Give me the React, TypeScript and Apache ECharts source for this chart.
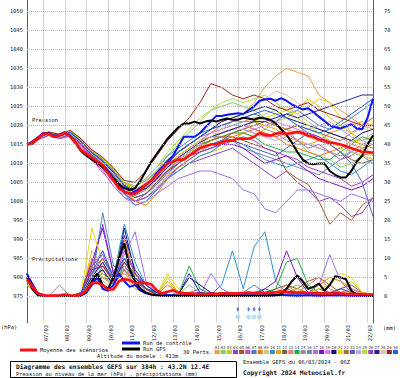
import React, { useEffect, useRef } from 'react';
import * as echarts from 'echarts';

const FONT = '"DejaVu Sans Mono", monospace';
const DATES = ['07/03','08/03','09/03','10/03','11/03','12/03','13/03','14/03','15/03','16/03','17/03','18/03','19/03','20/03','21/03','22/03'];
const HPA_TICKS = [975,980,985,990,995,1000,1005,1010,1015,1020,1025,1030,1035,1040,1045,1050];
const MM_TICKS = [0,5,10,15,20,25,30,35,40,45,50,55,60,65,70,75];
const STEP_MAIN = 6;
const STEP_PERT = 12;
const SNOW_HOURS = [234, 246, 252, 258];

const MEAN_P = [1015,1015.3,1016.5,1017.8,1017.8,1017,1017.5,1018,1017,1015.5,1013.5,1012.5,1011.5,1010.5,1009.5,1007.5,1005.5,1003.5,1002.5,1002,1002,1003,1004.5,1005.5,1007,1008.5,1010,1010.5,1011,1011,1012,1013,1014,1014.5,1015,1015,1015.5,1016,1016,1016.5,1016.5,1016.5,1017,1018,1017.5,1017.3,1017.8,1018,1017.8,1018,1018.3,1018,1017.3,1017,1016.3,1016,1015.5,1015.3,1015,1014.5,1014,1013.5,1013,1013,1012.8];
const CTRL_P = [1015,1015.5,1016.8,1018,1018,1017.2,1017.6,1018.2,1017.2,1015.5,1013.5,1012.5,1011.5,1010.5,1009.5,1008,1006,1004,1002.5,1002,1002.5,1003.5,1004.5,
  1005.5,1007.5,1009,1010.5,1012,1014.5,1017,1017,1017,1018,1019.5,1021,1022.5,1022.5,1022.8,1023,1023.2,1023,
  1024,1025,1026.5,1026.8,1027,1026.5,1027.2,1026.5,1025.5,1024.8,1024.2,1024.5,1023.5,1022.3,1021.2,1020,1019.5,1019.2,1019.8,1020.3,1019.2,1019,1022,1027];
const GFS_P = [1015,1015.2,1016.5,1017.8,1017.9,1017,1017.4,1018,1017,1015.3,1013.2,1012,1011,1010,1009,1007.5,1006,1004.5,1003.5,1003,1003.5,1005.5,1008,
  1010.5,1012.5,1014.5,1016.5,1018,1019.5,1020.5,1020.5,1021,1020.5,1021,1021.3,1021,1021.5,1021.8,1021.5,1021.5,1022,1021.8,1021.5,1022,1021.8,1021.5,
  1020.5,1019,1017.5,1015.5,1013,1011,1010,1009.8,1010,1010,1008,1007,1006.3,1006.3,1008,1010.5,1012,1015,1017.4];
const MEAN_R = [4.5,2.5,0.8,0.3,0.2,0.2,0.3,0.5,0.3,0.2,0.5,1.5,3.5,3.6,3,1.8,1.8,4,4.5,4.3,3.5,3.7,3.5,3.2,1.6,0.8,1.2,1.6,1,0.8,0.8,0.7,0.6,0.6,0.7,0.6,0.8,0.9,0.7,0.8,0.9,1,0.9,1,0.9,1,1.1,1.3,1.2,1.1,1,1.1,0.9,0.9,0.8,0.8,0.7,0.9,0.8,0.7,0.6,0.6,0.6,0.5,0.5];
const CTRL_R = [6,2.5,0.5,0.1,0.1,0.1,0.1,0.2,0.1,0.1,0.2,1,3,5,2,1.5,3,6,4,2.5,3,1.5,0.8,0.5,0.3,0.2,0.3,0.2,0.1,0.2,0.3,0.5,0.3,0.2,0.1,0.2,0.3,0.2,0.1,0.2,0.3,0.2,0.1,0.2,0.3,0.2,0.3,0.5,0.3,0.2,0.1,0.2,0.3,0.2,0.1,0.2,0.3,0.2,0.3,0.2,0.1,0.2,0.1,0.1,0.1];
const GFS_R = [5,2,0.3,0.1,0.1,0.2,0.1,0.1,0.1,0.1,0.2,1.5,4,6,3,2,5,10,14,7,4,2,1,0.5,0.3,0.2,0.1,0.2,0.1,0.1,0.2,0.1,0.1,0.2,0.1,0.1,0.2,0.1,0.1,0.2,0.1,0.1,0.2,0.1,0.1,0.2,0.3,0.5,2,4,5.5,4,2,2.5,3.4,1.5,3,5.3,5,4.5,1.5,0.5,0.3,0.2,0.1];

const MEMBER_COLORS = ['#f0a040','#80d060','#c8c830','#9040c0','#a05a28','#c050c0','#4a7cc8','#f07800','#d8c080','#3090d0',
  '#f0a010','#806040','#f08070','#20b040','#909090','#6a88a8','#a070f0','#8010c0','#e078e0','#101080',
  '#f0d800','#a07040','#5060c0','#c0a0f0','#b0e030','#a040c0','#2020a0','#e0c0a0','#a02020','#2060e0'];

const PERT_P = [
  [1015,1016.8,1018,1017.2,1018.3,1016,1013,1011,1008,1004,1003,1005,1008,1011,1013,1015,1017,1019,1021,1022,1023,1026,1030,1033,1035,1034,1033,1028,1026,1024,1022,1020,1019],
  [1015,1016.5,1017.6,1017,1018,1015.5,1012.5,1010,1007,1003,1002,1004,1008,1012,1015,1018,1021,1024,1025,1026,1025,1024,1022,1020,1019,1016,1013,1012,1011,1009,1010,1012,1013],
  [1015,1017,1018.2,1017.5,1018.5,1016.5,1013.5,1011.5,1009,1005,1003,1003,1005,1007,1009,1010,1012,1013,1014,1016,1018,1017,1019,1021,1022,1024,1027,1025,1022,1020,1018,1016,1017],
  [1015,1016.4,1017.8,1017,1017.8,1015,1012,1010,1006,1002,1000,1001,1003,1006,1008,1010,1011,1012,1013,1014,1012,1010,1008,1006,1008,1005,1003,1000,1001,999,996,997,1001],
  [1015,1016.6,1017.5,1016.8,1017.6,1015.2,1012,1010,1007,1004,1003,1004,1006,1009,1011,1013,1015,1016,1017,1017,1016,1015,1014,1013,1008,1006,1004.5,1000,994,997,995,999,1001],
  [1015,1016.2,1017.3,1016.5,1017.2,1014.5,1011,1008,1004,1001,1000,1002,1005,1008,1011,1013,1015,1017,1018,1019,1020,1019,1018,1017,1018,1016,1014,1015,1013,1011,1012,1014,1015],
  [1015,1016.7,1018,1017.3,1018,1015.8,1013,1011,1008,1005,1004,1006,1009,1012,1014,1016,1018,1019,1020,1021,1022,1023,1022,1021,1023,1024,1022,1020,1019,1020,1022,1024,1026],
  [1015,1016.9,1018.3,1017.6,1018.6,1016.4,1013.5,1011,1008,1003,1000,999,1002,1006,1009,1011,1013,1015,1016,1017,1018,1019,1018,1017,1015,1014,1013,1012,1013,1014,1016,1015,1014],
  [1015,1016.3,1017.6,1016.9,1017.9,1015,1012,1010,1007,1003,1001,1002,1004,1007,1010,1012,1014,1016,1017,1018,1019,1021,1023,1024,1025,1023,1021,1019,1018,1017,1016,1016,1018],
  [1015,1016.5,1017.9,1017.1,1018.2,1015.7,1012.8,1010.5,1006,1002,999,1000,1003,1006,1008,1010,1012,1013,1015,1016,1015,1013,1011,1010,1009,1010,1011,1012,1010,1008,1007,1009,1011],
  [1015,1016.8,1018.1,1017.4,1018.4,1016.2,1013.2,1011.2,1008.5,1005,1003.5,1004,1006,1009,1011,1013,1015,1016,1018,1019,1020,1021,1020,1019,1017,1016,1015,1016,1018,1019,1020,1021,1020],
  [1015,1016.4,1017.7,1016.8,1017.5,1015.3,1012.3,1009.8,1006.5,1002.5,1001,1002,1005,1008,1010,1012,1014,1015,1016,1018,1019,1020,1021,1020,1019,1020,1018,1016,1015,1013,1011,1010,1011],
  [1015,1016.6,1017.9,1017.2,1018.1,1015.9,1012.9,1010.9,1008,1004.5,1003,1004.5,1007,1010,1012,1014,1016,1018,1020,1021,1021,1022,1022,1020,1019,1018,1017,1016,1018,1017,1015,1014,1012],
  [1015,1016.5,1017.7,1016.9,1017.8,1015.4,1012.4,1010.2,1007.2,1003.5,1002,1003,1006,1009,1011,1013,1015,1016,1017,1018,1018,1017,1015,1014,1013,1013,1012,1011,1011,1013,1015,1017,1016],
  [1015,1016.7,1018,1017.1,1018.2,1016,1013,1011,1008.5,1005,1004,1005.5,1008,1011,1013,1015,1017,1018,1019,1020,1021,1021,1019,1018,1016,1015,1015,1014,1013,1012,1013,1015,1016],
  [1015,1016.4,1017.6,1016.7,1017.6,1015.1,1012.1,1009.7,1006.7,1003,1001.5,1003,1006,1009,1012,1014,1016,1017,1017,1016,1014,1013,1012,1011,1010,1009,1008,1007,1009,1011,1013,1012,1010],
  [1015,1016.2,1017.4,1016.6,1017.4,1014.8,1011.5,1008.5,1005,1001,999,1000,1002,1004,1006,1007,1008,1008,1007,1006,1003,1002,998,997,1000,1003,1003,1002,1001,1000,1002,1001,1000],
  [1015,1016.6,1017.8,1017,1018,1015.6,1012.6,1010.6,1007.6,1004,1002.5,1003.5,1006,1008,1010,1012,1013,1014,1015,1015,1014,1012,1010,1011,1012,1010,1008,1006,1005,1004,1003,1004,1006],
  [1015,1016.3,1017.5,1016.6,1017.3,1014.6,1011,1007.5,1005,1003,1002,1003.5,1006.5,1009.5,1012,1014,1016,1018,1019,1020,1020,1019,1020,1021,1020,1019,1018,1017,1016,1015,1013,1012,1013],
  [1015,1016.8,1018,1017.3,1018.3,1016.1,1013.1,1011.1,1008.2,1004.5,1003,1004,1007,1010,1013,1015,1017,1019,1021,1022,1023,1024,1025,1024,1022,1021,1020,1019,1018,1017,1016,1018,1019],
  [1015,1016.9,1018.2,1017.5,1018.6,1016.3,1013.3,1011.3,1008.3,1004.5,1003,1004,1007,1010,1012,1014,1016,1017,1018,1019,1020,1021,1022,1023,1024,1023,1025,1027,1026,1022,1018,1014,1011],
  [1015,1016.5,1017.8,1017,1018,1015.5,1012.6,1010.4,1007.4,1003.8,1002.2,1003.2,1005.5,1008,1010.5,1012.5,1014.5,1016,1017,1018,1019,1018,1017,1018,1019,1020,1019,1018,1017,1016,1018,1020,1022],
  [1015,1016.4,1017.6,1016.8,1017.7,1015.2,1012.2,1009.8,1006.8,1002.8,1001,1002,1004.5,1007.5,1010,1012,1014,1015,1016,1016,1015,1014,1013,1012,1014,1016,1018,1017,1015,1013,1010,1005,996],
  [1015,1016.7,1018,1017.2,1018.2,1015.9,1013,1011,1008,1004.3,1002.6,1003.7,1006.3,1009,1011.5,1013.5,1015.5,1017,1018,1019,1019,1018,1017,1016,1017,1018,1019,1020,1021,1019,1017,1016,1015],
  [1015,1016.8,1018.2,1017.4,1018.5,1016.2,1013.3,1011.4,1008.6,1005,1004,1006,1009,1013,1016,1019,1022,1024,1026,1027,1026,1027,1028,1026,1024,1022,1020,1018,1016,1014,1013,1012,1011],
  [1015,1016.3,1017.5,1016.6,1017.4,1014.9,1011.8,1009.3,1006,1002,1000,1001,1003.5,1006.5,1009,1011,1013,1014,1015,1016,1017,1016,1014,1013,1012,1011,1009,1008,1007,1006,1004,1005,1007],
  [1015,1016.6,1017.9,1017.1,1018.1,1015.8,1012.8,1010.6,1007.6,1004,1002.4,1003.4,1006,1009,1011.5,1013.5,1015.5,1017,1018,1019,1020,1021,1021,1022,1023,1022,1023,1024,1025,1026,1027,1028,1028],
  [1015,1016.5,1017.7,1016.9,1017.9,1015.5,1012.5,1010.3,1007.3,1003.7,1002,1003,1005.5,1008.5,1011,1013,1015,1017,1019,1021,1023,1025,1027,1029,1028,1026,1024,1022,1020,1019,1018,1019,1020],
  [1015,1016.9,1018.3,1017.6,1018.7,1016.5,1013.6,1011.6,1008.8,1005.5,1005,1008,1012,1016,1019,1022,1026,1031,1030,1028,1027,1028,1027,1025,1024,1025,1026,1024,1023,1022,1021,1020,1020],
  [1015,1016.6,1017.9,1017.2,1018.1,1015.7,1012.7,1010.7,1007.8,1004.2,1002.8,1004,1007,1010,1013,1015,1017,1019,1020,1021,1022,1023,1024,1023,1022,1020,1019,1018,1019,1021,1023,1025,1027],
];

const PERT_R = [
  [4,0.5,0,0,0,0.5,9,6,3,5,2,1,0.5,0.3,0.5,0.3,0.2,0.3,0.5,1,0.5,0.3,0.5,1,3,1,0.5,0.3,0.5,2,1,0.5,0.3],
  [3,0.3,0,0,0,1,4,7,3,8,4,2,1,0.5,0.5,3,1,0.5,0.3,0.5,1,0.5,0.3,0.5,2,3,2,1,0.5,0.3,0.2,0.3,0.2],
  [5,0.5,0,0,0,0.5,12,8,5,6,3,1,0.5,5,1,0.5,0.3,0.5,1,0.5,0.3,0.5,1,2,1,0.5,0.3,0.5,1,2,4,1,0.3],
  [6,1,0,0,0,1,7,19,6,10,5,2,1,0.5,0.3,0.5,1,0.5,0.3,0.5,1,0.5,0.3,0.3,0.5,1,0.5,0.3,1,2,3,1,0.5],
  [3,0.2,0,0,0,0.5,3,5,4,9,6,3,1,0.5,0.3,0.5,1,0.3,0.2,0.3,0.5,1,0.5,2,3,2,4,5,3,1,0.5,0.3,0.2],
  [4,0.5,0,0,0,1,5,9,4,12,6,3,1,0.5,0.5,1,2,0.5,0.3,0.5,0.3,0.5,1,0.5,0.3,1,0.5,0.3,0.5,1,0.5,0.3,0.2],
  [5,0.3,0,0,0,0.5,4,22,8,7,3,1,0.5,0.3,0.5,1,0.5,0.3,0.5,0.3,0.5,1,2,1,0.5,0.3,0.5,1,0.5,0.3,0.5,0.3,0.2],
  [4,0.5,0,0,0,1,10,7,3,15,5,2,0.5,3,1,0.5,0.3,0.5,0.3,0.5,1,0.5,0.3,0.5,1,0.5,1,3,5,4,2,1,0.5],
  [3,0.3,0,0,0,0.5,6,4,2,5,3,1,0.5,0.3,0.2,0.3,0.5,1,0.5,0.3,0.5,0.3,0.5,1,0.5,0.3,0.2,0.3,0.5,1,0.5,0.3,0.2],
  [6,1,0,0,0,0.5,3,8,5,19,9,3,1,0.5,0.3,0.5,1,0.5,3,12,2,13,17,4,1,0.5,0.3,0.5,1,0.5,0.3,0.5,0.3],
  [4,0.5,0,0,0,1,8,5,3,7,4,1.5,0.5,4,1,0.5,0.3,1,0.5,0.3,1,0.5,0.3,0.5,1,2,1,0.5,0.3,1,2,0.5,0.3],
  [5,0.5,0,0,0,0.5,5,6,4,8,5,2,1,0.5,0.3,0.5,0.3,0.5,1,0.5,0.3,0.5,1,0.5,0.3,0.5,1,2,1,0.5,0.3,0.5,0.3],
  [4,0.3,0,0,0,1,7,10,5,6,3,1,0.5,0.3,1,0.5,0.3,0.5,0.3,0.5,1,0.5,0.3,0.5,0.3,1,3,5,2,1,0.5,0.3,0.2],
  [3,0.5,0,0,0,0.5,4,6,3,8,4,2,1,0.5,0.5,8,2,0.5,0.3,0.5,0.3,0.5,1,2,9,10,3,1,0.5,0.3,0.5,0.3,0.2],
  [5,0.5,0,3,0,0.5,5,7,3,9,5,2,0.5,0.3,0.5,0.3,0.5,1,0.5,0.3,0.5,1,0.5,0.3,0.5,0.3,0.5,1,0.5,0.3,0.5,0.3,0.2],
  [4,0.3,0,0,0,1,6,8,4,10,5,2,1,0.5,0.3,0.5,1,0.5,0.3,0.5,1,3,1,0.5,0.3,0.5,0.3,0.5,1,0.5,0.3,0.5,0.3],
  [5,0.5,0,0,0,0.5,8,12,5,11,17,4,1,0.5,0.3,0.5,0.3,6,2,0.5,0.3,0.5,1,0.5,0.3,0.5,1,3,11,4,1,0.5,0.3],
  [6,1,0,0,0,1,9,18,6,8,4,2,0.5,0.3,0.5,0.3,0.5,1,0.5,0.3,0.5,0.3,2,4,12,5,1,0.5,0.3,0.5,0.3,0.5,0.3],
  [4,0.5,0,0,0,0.5,6,9,4,7,3,1,0.5,0.3,0.5,1,0.5,0.3,0.5,0.3,0.5,1,0.5,0.3,0.5,1,0.5,0.3,0.5,1,2,1,0.5],
  [5,0.3,0,0,0,1,5,7,3,18,6,2,1,0.5,0.5,5,3,1,0.5,0.3,0.5,0.3,0.5,1,0.5,0.3,0.5,1,0.5,0.3,0.5,0.3,0.2],
  [4,0.5,0,0,0,1,18,9,4,6,3,1,0.5,6,2,0.5,0.3,0.5,0.3,0.5,1,0.5,0.3,0.5,1,0.5,1,2,3,6,5,1,0.5],
  [3,0.3,0,0,0,0.5,4,5,3,7,4,2,0.5,0.3,0.5,0.3,0.5,0.3,0.5,1,0.5,0.3,0.5,1,2,1,0.5,0.3,0.5,1,0.5,0.3,0.2],
  [5,0.5,0,0,0,0.5,6,10,5,9,5,2,1,0.5,0.3,0.5,0.3,0.5,1,0.5,0.3,0.5,1,0.5,0.3,0.5,0.3,0.5,1,2,1,0.5,0.3],
  [4,0.3,0,0,0,1,7,8,4,8,4,1,0.5,0.3,0.5,1,0.5,0.3,0.5,0.3,0.5,0.3,0.5,1,0.5,0.3,0.5,1,0.5,0.3,0.5,0.3,0.2],
  [3,0.5,0,0,0,0.5,5,6,3,5,3,1,0.5,0.3,0.5,0.3,0.5,0.3,0.5,0.3,0.5,1,0.5,0.3,0.5,0.3,0.5,0.3,0.5,1,0.5,0.3,0.2],
  [5,0.5,0,0,0,1,8,11,5,13,6,2,1,0.5,0.3,0.5,1,0.5,0.3,0.5,0.3,0.5,1,0.5,0.3,0.5,0.3,0.5,1,0.5,0.3,0.5,0.3],
  [6,0.5,0,0,0,0.5,5,9,4,16,7,3,1,0.5,0.5,6,1,0.5,0.3,0.5,0.3,0.5,1,0.5,0.3,0.5,1,0.5,0.3,0.5,0.3,0.5,0.3],
  [4,0.3,0,0,0,0.5,6,5,3,6,3,1,0.5,0.3,0.5,0.3,0.5,0.3,0.5,0.3,0.5,0.3,0.5,1,0.5,0.3,0.5,0.3,0.5,1,0.5,0.3,0.2],
  [5,0.5,0,0,0,0.5,7,8,4,9,5,2,0.5,0.3,0.5,0.3,0.5,0.3,0.5,1,0.5,0.3,0.5,0.3,0.5,1,0.5,0.3,0.5,0.3,0.5,0.3,0.2],
  [4,0.5,0,0,0,1,6,12,5,10,5,2,1,0.5,0.3,0.5,1,0.5,0.3,0.5,0.3,0.5,1,0.5,0.3,0.5,0.3,0.5,1,0.5,0.3,0.5,0.3],
];

const CATS = MEAN_P.map((_, i) => ((i - 3) % 4 === 0 && i >= 3 ? DATES[(i - 3) / 4] : ''));

function txt(x: number, y: number, text: string, size = 5.4, bold = false, align = 'left', color = '#111') {
  return {
    type: 'text', x, y, silent: true,
    style: {
      text, fill: color,
      font: `${bold ? 'bold ' : ''}${size}px ${FONT}`,
      align, verticalAlign: 'middle', textAlign: align, textVerticalAlign: 'middle',
    },
  };
}

function buildOption() {
  const series: any[] = [];
  series.push({
    type: 'line', xAxisIndex: 1, yAxisIndex: 0, data: [], silent: true, z: 1,
    markLine: {
      silent: true, symbol: ['none', 'none'], label: { show: false }, animation: false,
      lineStyle: { color: '#b8b8b8', type: 'dotted', width: 1 },
      data: HPA_TICKS.map((v) => ({ yAxis: v })),
    },
  });
  PERT_P.forEach((arr, m) => {
    series.push({
      type: 'line', xAxisIndex: 1, yAxisIndex: 0, showSymbol: false, silent: true, z: 2,
      data: arr.map((v, k) => [k * STEP_PERT, v]),
      lineStyle: { width: 1, color: MEMBER_COLORS[m] }, itemStyle: { color: MEMBER_COLORS[m] },
    });
  });
  PERT_R.forEach((arr, m) => {
    series.push({
      type: 'line', xAxisIndex: 1, yAxisIndex: 1, showSymbol: false, silent: true, z: 2,
      data: arr.map((v, k) => [k * STEP_PERT, v]),
      lineStyle: { width: 1, color: MEMBER_COLORS[m] }, itemStyle: { color: MEMBER_COLORS[m] },
    });
  });
  const thick = (arr: number[], yi: number, color: string, w: number, z: number) => ({
    type: 'line', xAxisIndex: 1, yAxisIndex: yi, showSymbol: false, silent: true, z,
    data: arr.map((v, i) => [i * STEP_MAIN, v]),
    lineStyle: { width: w, color }, itemStyle: { color },
  });
  series.push(thick(CTRL_P, 0, '#0a14ff', 2, 4));
  series.push(thick(GFS_P, 0, '#000000', 2, 4));
  series.push(thick(CTRL_R, 1, '#0a14ff', 2, 4));
  series.push(thick(GFS_R, 1, '#000000', 2, 4));
  series.push(thick(MEAN_P, 0, '#ff1010', 2.6, 5));
  series.push(thick(MEAN_R, 1, '#ff1010', 2.6, 5));
  series.push({
    type: 'scatter', xAxisIndex: 1, yAxisIndex: 0, silent: true, z: 6,
    data: SNOW_HOURS.map((h) => [h, 969.6]), symbol: 'circle', symbolSize: 5,
    itemStyle: { color: '#a8d8f8' },
  });
  series.push({
    type: 'scatter', xAxisIndex: 1, yAxisIndex: 0, silent: true, z: 6,
    data: SNOW_HOURS.map((h) => [h, 971.6]), symbol: 'diamond', symbolSize: [3, 5],
    itemStyle: { color: '#4060d0' },
  });

  const labelStyle = { fontSize: 5.4, fontFamily: FONT, color: '#222' };
  const near = (v: number, list: number[]) => list.some((t) => Math.abs(t - v) < 1e-6);

  const graphic: any[] = [
    txt(32, 120, 'Pression'),
    txt(32, 259, 'Précipitations'),
    txt(1, 327, '(hPa)'),
    txt(383, 328, '(mm)'),
    { type: 'line', silent: true, shape: { x1: 20, y1: 350, x2: 37, y2: 350 }, style: { stroke: '#ff1010', lineWidth: 3 } },
    txt(40, 350, 'Moyenne des scénarios'),
    { type: 'line', silent: true, shape: { x1: 122, y1: 343, x2: 140, y2: 343 }, style: { stroke: '#0a14ff', lineWidth: 3 } },
    txt(143, 343, 'Run de contrôle'),
    { type: 'line', silent: true, shape: { x1: 122, y1: 349, x2: 140, y2: 349 }, style: { stroke: '#000', lineWidth: 3 } },
    txt(143, 349, 'Run GFS'),
    txt(183, 352, '30 Perts.'),
    txt(97, 356, 'Altitude du modele : 413m'),
    { type: 'rect', silent: true, shape: { x: 10.5, y: 361.5, width: 226, height: 16 }, style: { fill: '#fff', stroke: '#000', lineWidth: 1 } },
    txt(16, 366, 'Diagramme des ensembles GEFS sur 384h : 43.2N 12.4E', 6.3, true),
    txt(16, 373.5, 'Pression au niveau de la mer (hPa) , précipitations (mm)'),
    txt(243, 362, 'Ensemble GEFS du 06/03/2024 - 06Z'),
    txt(243, 372, 'Copyright 2024 Meteociel.fr', 6.3, true),
  ];
  MEMBER_COLORS.forEach((c, i) => {
    const x0 = 214.5 + i * 6.15;
    graphic.push({ type: 'rect', silent: true, shape: { x: x0, y: 350, width: 5.1, height: 4 }, style: { fill: c } });
    graphic.push(txt(x0 + 2.55, 347, String(i + 1).padStart(2, '0'), 4, false, 'center', '#333'));
  });

  return {
    animation: false,
    backgroundColor: '#ffffff',
    grid: { left: 27, right: 27, top: 0, bottom: 55 },
    xAxis: [
      {
        type: 'category', data: CATS, boundaryGap: false,
        axisLine: { show: false }, axisTick: { show: false },
        axisLabel: { ...labelStyle, interval: 0, rotate: 90, margin: 2, verticalAlign: 'top' },
        splitLine: { show: true, interval: (i: number) => i % 4 === 3, lineStyle: { color: '#d2d2dc', width: 1 } },
      },
      { type: 'value', min: 0, max: 384, show: false },
    ],
    yAxis: [
      {
        type: 'value', position: 'left', min: 968, max: 1053, minInterval: 5, maxInterval: 5,
        axisLine: { show: true, lineStyle: { color: '#606060', width: 1 } }, axisTick: { show: false },
        splitLine: { show: false },
        axisLabel: { ...labelStyle, margin: 4, formatter: (v: number) => (near(v, HPA_TICKS) ? String(Math.round(v)) : '') },
      },
      {
        type: 'value', position: 'right', min: -7, max: 78, minInterval: 5, maxInterval: 5,
        axisLine: { show: true, lineStyle: { color: '#606060', width: 1 } }, axisTick: { show: false },
        splitLine: { show: false },
        axisLabel: { ...labelStyle, margin: 11, formatter: (v: number) => (near(v, MM_TICKS) ? String(Math.round(v)) : '') },
      },
    ],
    series,
    graphic,
  };
}

export default function App() {
  const ref = useRef<HTMLDivElement>(null);
  useEffect(() => {
    if (!ref.current) return;
    const chart = echarts.init(ref.current, null, { renderer: 'svg' });
    chart.setOption(buildOption() as any);
    return () => chart.dispose();
  }, []);
  return <div ref={ref} style={{ position: 'absolute', left: 0, top: 0, width: 400, height: 378, background: '#fff' }} />;
}
